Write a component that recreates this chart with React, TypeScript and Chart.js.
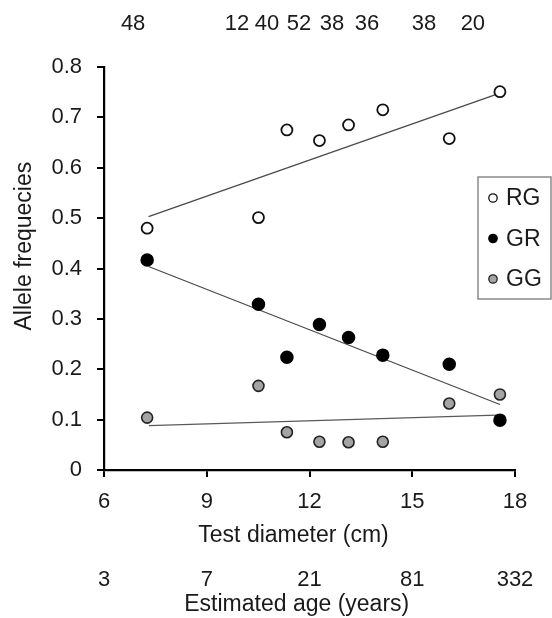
import React, { useEffect, useRef } from "react";
import { Chart, registerables } from "chart.js";

Chart.register(...registerables);

// Test diameter (cm) of each size class
const diameters = [7.26, 10.51, 11.34, 12.29, 13.14, 14.14, 16.08, 17.56];
// Allele / genotype frequencies
const rgValues = [0.48, 0.501, 0.675, 0.654, 0.685, 0.715, 0.658, 0.751];
const grValues = [0.417, 0.329, 0.224, 0.289, 0.263, 0.228, 0.21, 0.099];
const ggValues = [0.104, 0.167, 0.075, 0.056, 0.055, 0.056, 0.132, 0.15];

// Linear trend lines: [start, end]
const trendX = [7.3, 17.56];
const rgTrend = [0.503, 0.748];
const grTrend = [0.404, 0.13];
const ggTrendX = [7.31, 17.47];
const ggTrend = [0.088, 0.109];

// Sample sizes shown along the top (with their x positions on the diameter axis)
const sampleSizes = ["48", "12", "40", "52", "38", "36", "38", "20"];
const sampleLabelX = [6.85, 9.88, 10.76, 11.69, 12.66, 13.68, 15.34, 16.77];

// Axis ticks
const diameterTicks = [6, 9, 12, 15, 18];
const ageLabels = ["3", "7", "21", "81", "332"];
const yTicks = [0, 0.1, 0.2, 0.3, 0.4, 0.5, 0.6, 0.7, 0.8];

const FONT = "'Liberation Sans', Arial, Helvetica, sans-serif";
const TEXT = "#1a1a1a";
const TICK_SIZE = 22;
const TITLE_SIZE = 23;

const legendPlugin = {
  id: "customLegend",
  afterDraw(chart: any) {
    const ctx = chart.ctx;
    const items = chart.data.datasets.filter((d: any) => d.inLegend);
    const bx = 478, by = 177, bw = 73, bh = 122;
    ctx.save();
    ctx.strokeStyle = "#8a8a8a";
    ctx.lineWidth = 1.5;
    ctx.strokeRect(bx, by, bw, bh);
    items.forEach((d: any, i: number) => {
      const cy = by + 21 + i * 40.5;
      ctx.beginPath();
      ctx.arc(bx + 15, cy, 4.2, 0, Math.PI * 2);
      ctx.fillStyle = d.backgroundColor;
      ctx.fill();
      ctx.lineWidth = 1.3;
      ctx.strokeStyle = d.borderColor;
      ctx.stroke();
      ctx.fillStyle = TEXT;
      ctx.font = `23px ${FONT}`;
      ctx.textBaseline = "middle";
      ctx.textAlign = "left";
      ctx.fillText(d.label, bx + 28, cy + 1);
    });
    ctx.restore();
  },
};

export default function App() {
  const ref = useRef<HTMLCanvasElement>(null);

  useEffect(() => {
    if (!ref.current) return;
    const pts = (ys: number[], xs: number[] = diameters) => ys.map((y, i) => ({ x: xs[i], y }));
    const tickGrid = {
      display: true,
      drawOnChartArea: false,
      drawTicks: true,
      tickLength: 7,
      color: "#000",
      lineWidth: 2,
    };
    const chart = new Chart(ref.current, {
      type: "scatter",
      data: {
        datasets: [
          {
            label: "RG",
            inLegend: true,
            data: pts(rgValues),
            backgroundColor: "#ffffff",
            borderColor: "#111111",
            borderWidth: 1.8,
            pointRadius: 5.5,
          } as any,
          {
            label: "GR",
            inLegend: true,
            data: pts(grValues),
            backgroundColor: "#000000",
            borderColor: "#000000",
            borderWidth: 1.5,
            pointRadius: 6,
          } as any,
          {
            label: "GG",
            inLegend: true,
            data: pts(ggValues),
            backgroundColor: "#a4a4a4",
            borderColor: "#222222",
            borderWidth: 1.6,
            pointRadius: 5.5,
          } as any,
          {
            label: "RG trend",
            data: pts(rgTrend, trendX),
            showLine: true,
            pointRadius: 0,
            borderColor: "#4a4a4a",
            borderWidth: 1.3,
          },
          {
            label: "GR trend",
            data: pts(grTrend, trendX),
            showLine: true,
            pointRadius: 0,
            borderColor: "#4a4a4a",
            borderWidth: 1.3,
          },
          {
            label: "GG trend",
            data: pts(ggTrend, ggTrendX),
            showLine: true,
            pointRadius: 0,
            borderColor: "#5a5a5a",
            borderWidth: 1.3,
          },
        ],
      },
      options: {
        responsive: false,
        animation: false,
        layout: { padding: { left: 0, right: 37, top: 0, bottom: 0 } },
        plugins: {
          legend: { display: false },
          tooltip: { enabled: false },
        },
        scales: {
          xTop: {
            type: "linear",
            position: "top",
            min: 6,
            max: 18,
            grid: { display: false },
            border: { display: false },
            afterBuildTicks: (scale: any) => {
              scale.ticks = sampleLabelX.map((v) => ({ value: v }));
            },
            afterFit: (scale: any) => {
              scale.height = 67;
            },
            ticks: {
              autoSkip: false,
              maxRotation: 0,
              padding: 22,
              color: TEXT,
              font: { family: FONT, size: TICK_SIZE },
              callback: (_v: any, i: number) => sampleSizes[i],
            },
          },
          x: {
            type: "linear",
            position: "bottom",
            min: 6,
            max: 18,
            grid: tickGrid,
            border: { display: true, color: "#000", width: 2.2 },
            afterBuildTicks: (scale: any) => {
              scale.ticks = diameterTicks.map((v) => ({ value: v }));
            },
            afterFit: (scale: any) => {
              scale.height = 79;
            },
            ticks: {
              autoSkip: false,
              maxRotation: 0,
              padding: 12,
              color: TEXT,
              font: { family: FONT, size: TICK_SIZE },
              callback: (v: any) => String(v),
            },
            title: {
              display: true,
              text: "Test diameter (cm)     ",
              color: TEXT,
              font: { family: FONT, size: TITLE_SIZE },
              padding: { top: 0, bottom: 0 },
            },
          },
          x2: {
            type: "linear",
            position: "bottom",
            min: 6,
            max: 18,
            grid: { display: false },
            border: { display: false },
            afterBuildTicks: (scale: any) => {
              scale.ticks = diameterTicks.map((v) => ({ value: v }));
            },
            afterFit: (scale: any) => {
              scale.height = 69;
            },
            ticks: {
              autoSkip: false,
              maxRotation: 0,
              padding: 10,
              color: TEXT,
              font: { family: FONT, size: TICK_SIZE },
              callback: (_v: any, i: number) => ageLabels[i],
            },
            title: {
              display: true,
              text: "Estimated age (years)    ",
              color: TEXT,
              font: { family: FONT, size: TITLE_SIZE },
              padding: { top: 0, bottom: 0 },
            },
          },
          y: {
            type: "linear",
            position: "left",
            min: 0,
            max: 0.8,
            grid: tickGrid,
            border: { display: true, color: "#000", width: 2.2 },
            afterBuildTicks: (scale: any) => {
              scale.ticks = yTicks.map((v) => ({ value: v }));
            },
            afterFit: (scale: any) => {
              scale.width = 104;
            },
            ticks: {
              autoSkip: false,
              padding: 15,
              color: TEXT,
              font: { family: FONT, size: TICK_SIZE },
              callback: (v: any) => String(Math.round(v * 10) / 10),
            },
            title: {
              display: true,
              text: "       Allele frequecies",
              color: TEXT,
              font: { family: FONT, size: TITLE_SIZE },
              padding: { top: 11, bottom: 0 },
            },
          },
        },
      } as any,
      plugins: [legendPlugin],
    });
    return () => chart.destroy();
  }, []);

  return (
    <div style={{ position: "fixed", left: 0, top: 0, width: 552, height: 618, background: "#fff" }}>
      <canvas ref={ref} width={552} height={618} style={{ width: 552, height: 618, display: "block" }} />
    </div>
  );
}
